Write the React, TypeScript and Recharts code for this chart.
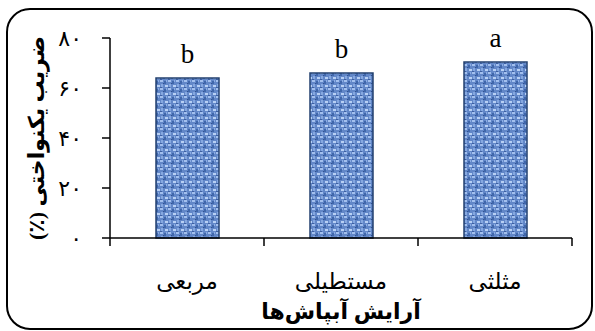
import React from 'react'
import { BarChart, Bar, XAxis, YAxis, LabelList, Label } from 'recharts'

const categories = ['مربعی', 'مستطیلی', 'مثلثی']
const uniformity = [64, 66, 70.4]
const letters = ['b', 'b', 'a']
const yTicks = [0, 20, 40, 60, 80]

const data = categories.map((name, i) => ({ name, value: uniformity[i], letter: letters[i] }))

const toPersian = (n: number) => String(n).replace(/\d/g, (d) => '۰۱۲۳۴۵۶۷۸۹'[Number(d)])

const serif = "'Times New Roman', 'Liberation Serif', 'DejaVu Sans', serif"

function CategoryTick(props: any) {
  const { x, y, payload, index } = props
  const off = payload?.offset ?? 77
  return (
    <g>
      <line x1={x - off} x2={x - off} y1={y} y2={y + 8} stroke="#000" strokeWidth={1.5} />
      {index === categories.length - 1 && (
        <line x1={x + off} x2={x + off} y1={y} y2={y + 8} stroke="#000" strokeWidth={1.5} />
      )}
      <text x={x} y={y + 51} textAnchor="middle" fontSize={23} fontFamily={serif} fill="#000">
        {payload.value}
      </text>
    </g>
  )
}

export default function App() {
  return (
    <div style={{ position: 'absolute', left: 0, top: 0, width: 595, height: 331, background: '#fff' }}>
      <div
        style={{
          position: 'absolute',
          left: 6,
          top: 8,
          width: 587,
          height: 322,
          boxSizing: 'border-box',
          border: '2.5px solid #000',
          borderRadius: 24,
        }}
      />
      <div style={{ position: 'absolute', left: 0, top: 0 }}>
        <BarChart width={595} height={331} data={data} margin={{ top: 38, right: 23, bottom: 0, left: 0 }}>
          <defs>
            <pattern id="burlap" width="8" height="8" patternUnits="userSpaceOnUse">
              <rect width="8" height="8" fill="#6287c8" />
              <rect x="0" y="0" width="3" height="2" fill="#a3c0ee" />
              <rect x="4" y="1" width="2" height="3" fill="#4067ab" />
              <rect x="1" y="4" width="2" height="3" fill="#86a8e0" />
              <rect x="5" y="5" width="3" height="2" fill="#b8d0f4" />
              <rect x="3" y="3" width="1" height="1" fill="#31518f" />
              <rect x="6" y="0" width="1" height="2" fill="#8daee4" />
              <rect x="0" y="7" width="2" height="1" fill="#3d5fa0" />
            </pattern>
          </defs>
          <XAxis
            dataKey="name"
            height={93}
            tickLine={false}
            tickSize={0}
            tickMargin={0}
            axisLine={{ stroke: '#000', strokeWidth: 1.5 }}
            tick={<CategoryTick />}
            interval={0}
          >
            <Label
              value="آرایش آبپاش‌ها"
              position="insideBottom"
              offset={12}
              fontSize={22}
              fontWeight="bold"
              fontFamily={serif}
              fill="#000"
            />
          </XAxis>
          <YAxis
            width={110}
            domain={[0, 80]}
            ticks={yTicks}
            tickFormatter={toPersian}
            tickSize={8}
            tickMargin={20}
            axisLine={{ stroke: '#000', strokeWidth: 1.5 }}
            tickLine={{ stroke: '#000', strokeWidth: 1.5 }}
            tick={{ fill: '#000', fontSize: 22, fontFamily: serif }}
          >
            <Label
              value={'ضریب یکنواختی (٪)\u200F'}
              angle={-90}
              position="center"
              dx={-19}
              fontSize={22}
              fontWeight="bold"
              fontFamily={serif}
              fill="#000"
            />
          </YAxis>
          <Bar dataKey="value" barSize={63} fill="url(#burlap)" stroke="#23406f" strokeWidth={1.5} isAnimationActive={false}>
            <LabelList dataKey="letter" position="top" offset={15} fontSize={27} fontFamily={serif} fill="#000" />
          </Bar>
        </BarChart>
      </div>
    </div>
  )
}
